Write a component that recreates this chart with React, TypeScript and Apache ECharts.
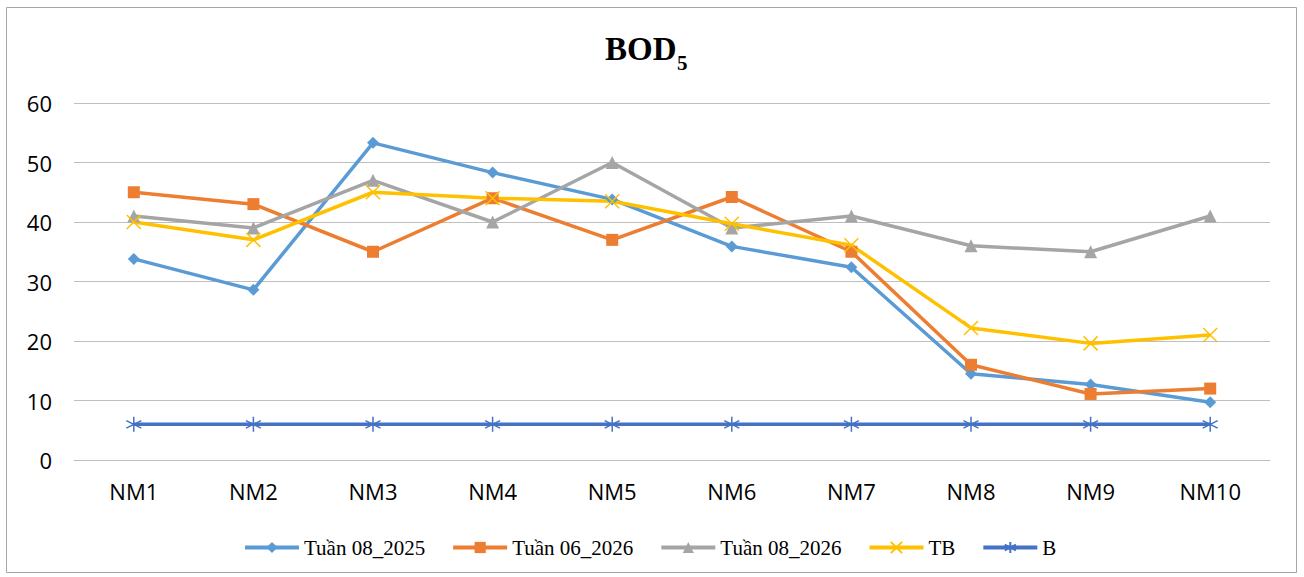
import React, { useEffect, useRef } from "react";
import * as echarts from "echarts";

const categories = ["NM1", "NM2", "NM3", "NM4", "NM5", "NM6", "NM7", "NM8", "NM9", "NM10"];
const week08_2025 = [33.8, 28.6, 53.3, 48.3, 43.8, 35.9, 32.4, 14.5, 12.7, 9.7];
const week06_2026 = [45, 43, 35, 44, 37, 44.2, 35, 16, 11.1, 12];
const week08_2026 = [41, 39, 47, 40, 50, 39, 41, 36, 35, 41];
const tbValues = [40, 37, 45, 44, 43.5, 39.7, 36.1, 22.2, 19.6, 21];
const bValues = [6, 6, 6, 6, 6, 6, 6, 6, 6, 6];
const seriesNames = ["Tuần 08_2025", "Tuần 06_2026", "Tuần 08_2026", "TB", "B"];
const yTicks = { min: 0, max: 60, interval: 10 };

const X_PATH = "path://M0,0L10,10M10,0L0,10";
const STAR_PATH = "path://M5,0L5,10M0.7,2.5L9.3,7.5M0.7,7.5L9.3,2.5";

export default function App() {
  const ref = useRef<HTMLDivElement>(null);
  useEffect(() => {
    if (!ref.current) return;
    const chart = echarts.init(ref.current, undefined, { renderer: "svg" });
    const gridColor = "#BFBFBF";
    const mk = (name: string, data: number[], color: string, symbol: string, size: number, stroke = false) => ({
      name,
      type: "line",
      data,
      symbol,
      symbolSize: size,
      showAllSymbol: true,
      lineStyle: { color, width: 3.5 },
      itemStyle: stroke
        ? { color: "rgba(0,0,0,0)", borderColor: color, borderWidth: 1.5 }
        : { color, borderWidth: 0 },
      emphasis: { disabled: true },
    });
    chart.setOption({
      animation: false,
      backgroundColor: "#FFFFFF",
      grid: { left: 74, right: 34, top: 103, bottom: 117, containLabel: false },
      graphic: [
        {
          type: "rect",
          shape: { x: 6.5, y: 7.5, width: 1290, height: 565 },
          style: { fill: "none", stroke: "#A6A6A6", lineWidth: 1 },
          silent: true,
        },
        {
          type: "text",
          x: 605,
          y: 49,
          style: {
            text: "BOD",
            font: "bold 33px 'Liberation Serif'",
            fill: "#000000",
            align: "left",
            verticalAlign: "middle",
          },
        },
        {
          type: "text",
          x: 677,
          y: 63,
          style: {
            text: "5",
            font: "bold 21px 'Liberation Serif'",
            fill: "#000000",
            align: "left",
            verticalAlign: "middle",
          },
        },
      ],
      legend: {
        data: seriesNames,
        left: 238,
        top: 532,
        itemWidth: 54,
        itemHeight: 14,
        itemGap: 26,
        lineStyle: { width: 4 },
        textStyle: { fontFamily: "Liberation Serif", fontSize: 21, color: "#000000" },
      },
      xAxis: {
        type: "category",
        data: categories,
        boundaryGap: true,
        axisTick: { show: false },
        axisLine: { lineStyle: { color: gridColor, width: 1 } },
        axisLabel: { fontFamily: "Open Sans", fontSize: 22, color: "#000000", margin: 20 },
      },
      yAxis: {
        type: "value",
        min: yTicks.min,
        max: yTicks.max,
        interval: yTicks.interval,
        axisLine: { show: false },
        axisTick: { show: false },
        splitLine: { lineStyle: { color: gridColor, width: 1 } },
        axisLabel: { fontFamily: "Open Sans", fontSize: 22, color: "#000000", margin: 22 },
      },
      series: [
        mk(seriesNames[0], week08_2025, "#5B9BD5", "diamond", 12),
        mk(seriesNames[1], week06_2026, "#ED7D31", "rect", 12),
        mk(seriesNames[2], week08_2026, "#A5A5A5", "triangle", 13),
        mk(seriesNames[3], tbValues, "#FFC000", X_PATH, 14, true),
        mk(seriesNames[4], bValues, "#4472C4", STAR_PATH, 15, true),
      ],
    });
    return () => chart.dispose();
  }, []);
  return (
    <div
      ref={ref}
      style={{ position: "fixed", left: 0, top: 0, width: 1304, height: 577, background: "#fff" }}
    />
  );
}
